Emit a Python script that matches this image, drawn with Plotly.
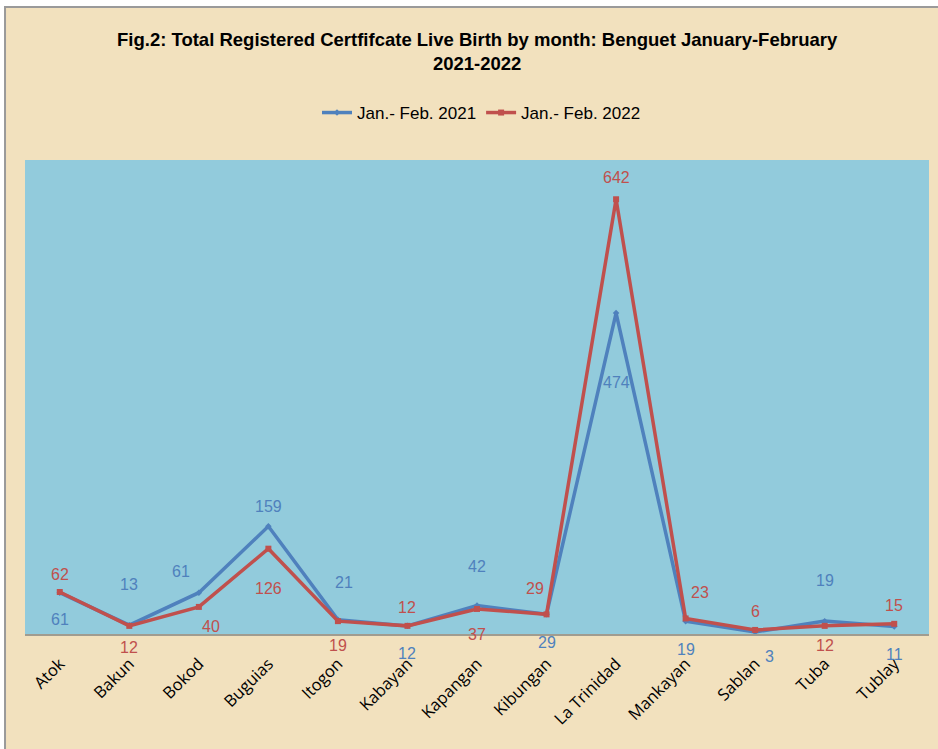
import plotly.graph_objects as go

municipalities = ["Atok", "Bakun", "Bokod", "Buguias", "Itogon", "Kabayan", "Kapangan",
                  "Kibungan", "La Trinidad", "Mankayan", "Sablan", "Tuba", "Tublay"]
births_2021 = [61, 13, 61, 159, 21, 12, 42, 29, 474, 19, 3, 19, 11]
births_2022 = [62, 12, 40, 126, 19, 12, 37, 29, 642, 23, 6, 12, 15]
series_names = ["Jan.- Feb. 2021", "Jan.- Feb. 2022"]
title_text = "Fig.2: Total Registered Certfifcate Live Birth by month: Benguet January-February<br>2021-2022"

# label offsets (pixels) for data labels
shift_2021 = [(0, -27), (0, 41), (-18, 21), (0, 20), (6, 37), (0, -28), (0, 39),
              (0, -28), (0, -69), (0, -28), (14, -25), (0, 41), (0, -28)]
shift_2022 = [(0, 18), (0, -22), (12, -20), (0, -40), (0, -24), (0, 18), (0, -26),
              (-12, 26), (0, 22), (14, 26), (0, 18), (0, -20), (0, 18)]

BLUE = "#4F81BD"
RED = "#C0504D"
FONT = "Liberation Sans, Arial, sans-serif"

fig = go.Figure()
fig.add_trace(go.Scatter(x=municipalities, y=births_2021, name=series_names[0],
                         mode="lines+markers", line=dict(color=BLUE, width=3.5),
                         marker=dict(symbol="diamond", size=5, color=BLUE)))
fig.add_trace(go.Scatter(x=municipalities, y=births_2022, name=series_names[1],
                         mode="lines+markers", line=dict(color=RED, width=3.5),
                         marker=dict(symbol="square", size=6, color=RED)))

annotations = []
for vals, shifts, col in ((births_2021, shift_2021, BLUE), (births_2022, shift_2022, RED)):
    for m, v, (dx, dy) in zip(municipalities, vals, shifts):
        annotations.append(dict(x=m, y=v, text=str(v), showarrow=False,
                                xshift=dx, yshift=dy,
                                font=dict(family=FONT, size=16, color=col)))

annotations.append(dict(xref="paper", yref="paper", x=0.5, y=(634 - 51) / 474,
                        xanchor="center", yanchor="middle", showarrow=False,
                        text="<b>" + title_text + "</b>",
                        font=dict(family=FONT, size=18.5, color="black")))

shapes = [
    dict(type="rect", xref="paper", yref="paper", x0=-0.0221, x1=1.05, y0=-0.5, y1=1.3228,
         fillcolor="#F2E1BE", line=dict(color="#9A9A9A", width=2), layer="below"),
    dict(type="rect", xref="paper", yref="paper", x0=0, x1=1, y0=0, y1=1,
         fillcolor="#92CBDC", line=dict(width=0), layer="below"),
]

fig.update_layout(
    width=938, height=749,
    margin=dict(l=25, r=9, t=160, b=115),
    paper_bgcolor="white",
    plot_bgcolor="#92CBDC",
    legend=dict(orientation="h", x=0.505, xanchor="center", y=1 - 113 / 749, yanchor="middle",
                yref="container", bgcolor="rgba(0,0,0,0)",
                font=dict(family=FONT, size=17, color="black")),
    xaxis=dict(type="category", range=[-0.5, 12.5], showgrid=False, showline=True,
               linecolor="#A09C90", linewidth=1.5, tickangle=-45, ticks="outside",
               ticklen=12, tickcolor="rgba(0,0,0,0)",
               tickfont=dict(family="Open Sans, sans-serif", size=16.5, color="black")),
    yaxis=dict(range=[0, 700], visible=False, showgrid=False, zeroline=False),
    annotations=annotations,
    shapes=shapes,
    showlegend=True,
)

fig.write_html("out.html", config={"displayModeBar": False},
               post_script="document.body.style.margin='0';")
